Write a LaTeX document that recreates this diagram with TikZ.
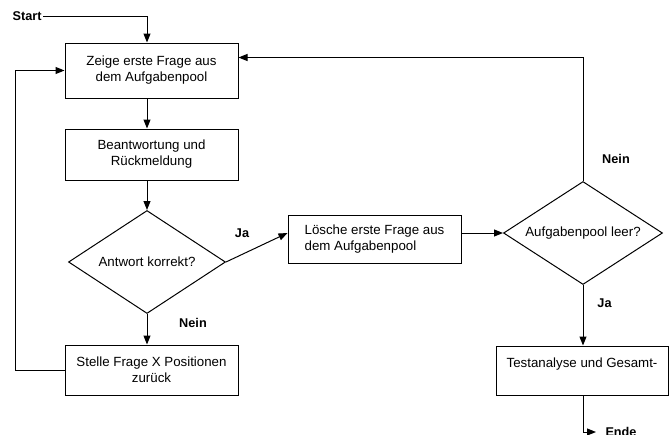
\documentclass[tikz,border=0pt]{standalone}
\usepackage{fontspec}
\setmainfont{Liberation Sans}
\usetikzlibrary{calc, positioning, shapes.geometric, arrows.meta}

\tikzset{
  block/.style={draw, rectangle, minimum width=173pt, minimum height=52pt, align=center, inner sep=2pt},
  decision/.style={draw, diamond, aspect=1.53, minimum width=157pt, minimum height=103pt, inner sep=0pt, align=center},
  tag/.style={font=\bfseries\fontsize{12.7}{15}\selectfont, inner sep=1pt}
}

\begin{document}
\begin{tikzpicture}[x=1pt, y=-1pt, >={Triangle[length=9pt,width=7pt]}, line width=1pt, font=\fontsize{13.3}{16}\selectfont]

\useasboundingbox (0,0) rectangle (669,434);
\clip (0,0) rectangle (669,434);

% --- blocks and decisions ---
\node[block, minimum height=55pt] (zeige) at (151.5,70.5) {Zeige erste Frage aus\\dem Aufgabenpool};
\node[block, minimum height=51pt] (antwort) at (151.5,154.5) {Beantwortung und\\Rückmeldung};
\node[decision] (korrekt) at (147,262) {Antwort korrekt?};
\node[block, minimum height=50pt] (zurueck) at (151.5,370) {Stelle Frage X Positionen\\zurück};
\node[block, minimum height=48pt, align=left] (loesche) at (374.5,239) {Lösche erste Frage aus\\dem Aufgabenpool};
\node[decision, minimum width=159pt] (leer) at (583,233) {Aufgabenpool leer?};
\node[block, minimum width=172pt, minimum height=49pt] (analyse) at (582,370.5) {Testanalyse und Gesamt-\\\mbox{}};

% --- start and end ---
\node[tag, anchor=east] (start) at (43,16.5) {Start};
\coordinate (startknick) at (147,16.5);
\node[tag, anchor=west, inner xsep=9pt] (ende) at (596,432) {Ende};

% --- main column ---
\draw[->] (start.east) -- (startknick) -- (zeige.north -| startknick);
\draw[->] (zeige.south -| startknick) -- (antwort.north -| startknick);
\draw[->] (antwort.south -| startknick) -- (korrekt.north);
\draw[->] (korrekt.south) -- (zurueck.north -| korrekt.south);
\draw[->] (zurueck.west) -- ++(-49,0) |- (zeige.west);

% --- correct answer branch ---
\draw[->] (korrekt.east) -- ($(loesche.west)+(0,-6)$);
\draw[->] (loesche.east |- leer.west) -- (leer.west);
\draw[->] (leer.north) |- ($(zeige.north east)+(0,15)$);
\draw[->] (leer.south) -- (analyse.north -| leer.south);
\draw[->] (analyse.south -| leer.south) |- (ende.west);

% --- branch labels ---
\node[tag] (ja1) at (242,233) {Ja};
\node[tag] (nein1) at (193,323) {Nein};
\node[tag] (nein2) at (616,159) {Nein};
\node[tag] (ja2) at (604.5,303) {Ja};

\end{tikzpicture}
\end{document}
